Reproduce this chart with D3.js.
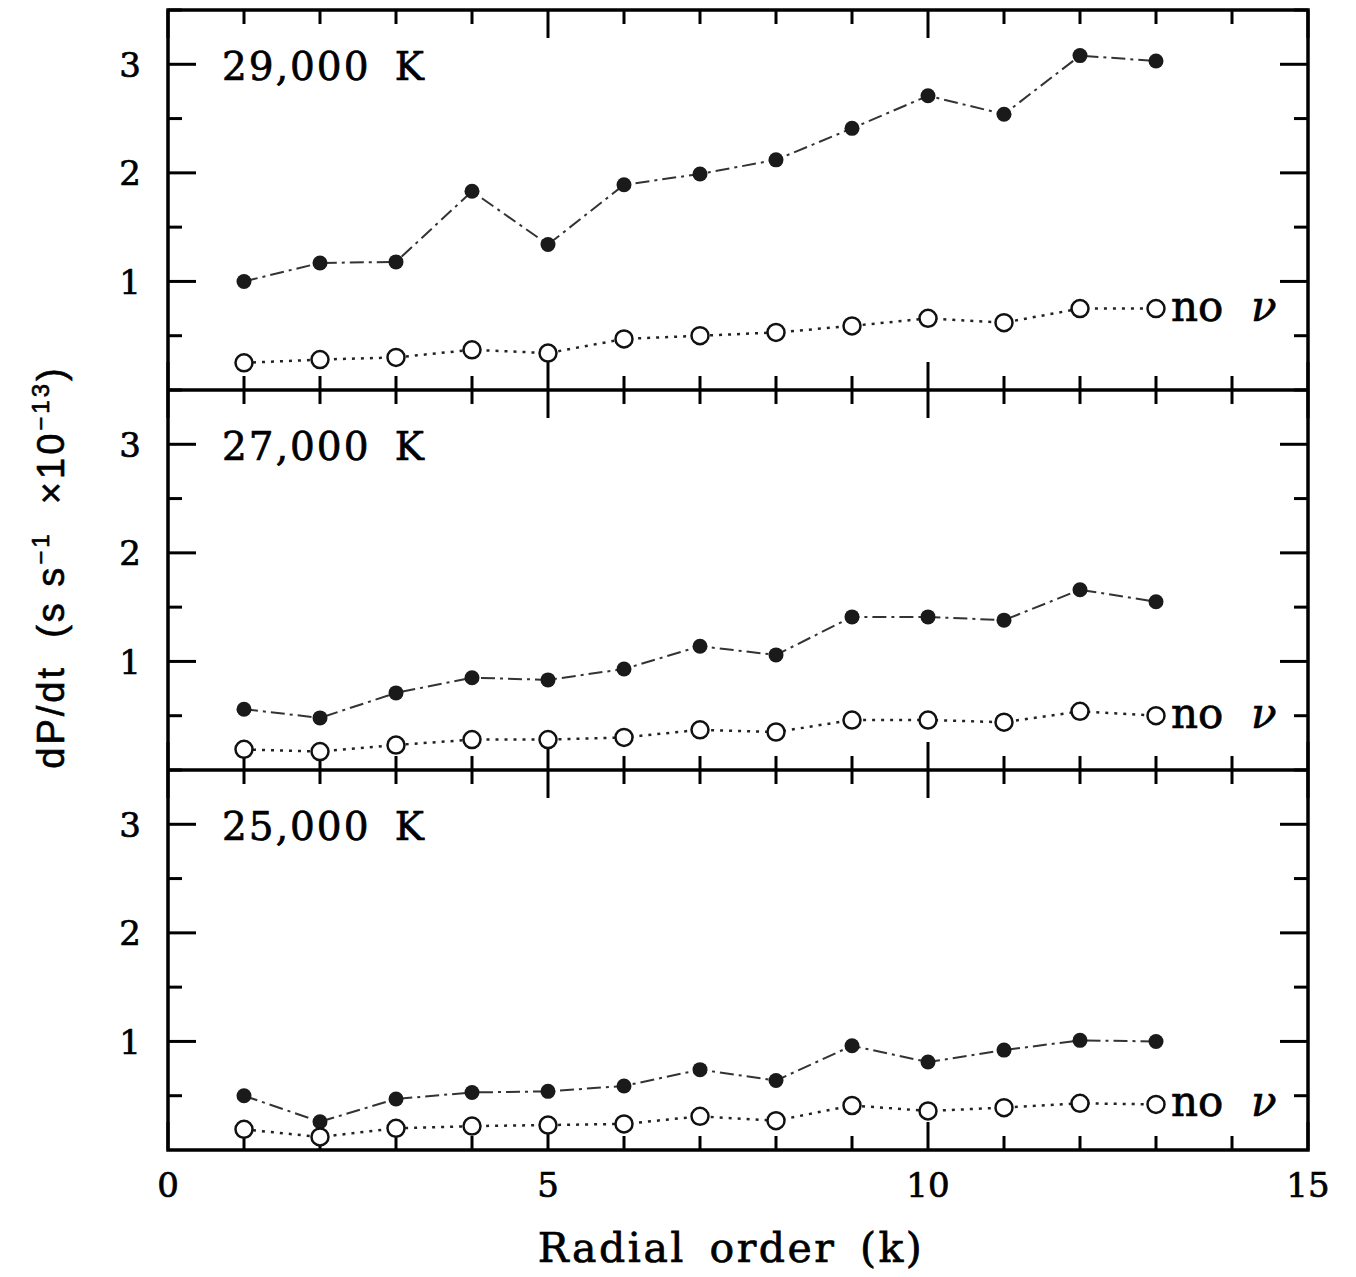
<!DOCTYPE html>
<html><head><meta charset="utf-8">
<script src="https://d3js.org/d3.v7.min.js"></script>
<style>body{margin:0;background:#fff} text{white-space:pre}</style>
</head><body>
<svg id="c" width="1356" height="1277"></svg>
<script>
const radialOrder = [1,2,3,4,5,6,7,8,9,10,11,12,13];
const panelLabels = ["29,000 K","27,000 K","25,000 K"];
const withNu29 = [1.00,1.17,1.18,1.83,1.34,1.89,1.99,2.12,2.41,2.71,2.54,3.08,3.03];
const noNu29   = [0.25,0.28,0.30,0.37,0.34,0.47,0.50,0.53,0.59,0.66,0.62,0.75,0.75];
const withNu27 = [0.56,0.48,0.71,0.85,0.83,0.93,1.14,1.06,1.41,1.41,1.38,1.66,1.55];
const noNu27   = [0.19,0.17,0.23,0.28,0.28,0.30,0.37,0.35,0.46,0.46,0.44,0.54,0.50];
const withNu25 = [0.50,0.26,0.47,0.53,0.54,0.59,0.74,0.64,0.96,0.81,0.92,1.01,1.00];
const noNu25   = [0.19,0.12,0.20,0.22,0.23,0.24,0.31,0.27,0.41,0.36,0.39,0.43,0.42];
const xMajorTicks = [0,5,10,15];
const yMajorTicks = [1,2,3];
const xLabel = "Radial order (k)";
const noNuLabel = "no";

const panels = [
  {label: panelLabels[0], filled: withNu29, open: noNu29},
  {label: panelLabels[1], filled: withNu27, open: noNu27},
  {label: panelLabels[2], filled: withNu25, open: noNu25}
];

const svg = d3.select("#c");
const L = 168, R = 1308, T = 10, H = 380;
const FONT = "DejaVu Serif";
const x = d3.scaleLinear().domain([0,15]).range([L,R]);
const xMinor = d3.range(0,16,1);
const yMinor = d3.range(0.5,3.51,0.5);

function serif(sel, size) {
  return sel.attr("font-family",FONT).attr("font-size",size)
    .attr("stroke","#000").attr("stroke-width",0.7).attr("fill","#000");
}

panels.forEach((p,i) => {
  const top = T + i*H, bot = top + H;
  const y = d3.scaleLinear().domain([0,3.5]).range([bot, top]);
  const g = svg.append("g");

  const tk = g.append("g").attr("stroke","#000");
  xMinor.forEach(v => {
    const len = xMajorTicks.includes(v) ? 28 : 14;
    tk.append("line").attr("x1",x(v)).attr("x2",x(v)).attr("y1",bot).attr("y2",bot-len).attr("stroke-width",3);
    tk.append("line").attr("x1",x(v)).attr("x2",x(v)).attr("y1",top).attr("y2",top+len).attr("stroke-width",3);
  });
  yMinor.forEach(v => {
    const len = yMajorTicks.includes(v) ? 28 : 14;
    tk.append("line").attr("x1",L).attr("x2",L+len).attr("y1",y(v)).attr("y2",y(v)).attr("stroke-width",3);
    tk.append("line").attr("x1",R).attr("x2",R-len).attr("y1",y(v)).attr("y2",y(v)).attr("stroke-width",3);
  });

  yMajorTicks.forEach(v => {
    serif(g.append("text"),34).attr("x",L-27).attr("y",y(v)).attr("dy","0.36em")
      .attr("text-anchor","end").text(v);
  });

  serif(g.append("text"),39).attr("x",222).attr("y",top+70)
    .attr("letter-spacing",2).attr("word-spacing",10).text(p.label);

  const line = d3.line().x((d,j)=>x(radialOrder[j])).y(d=>y(d));
  g.append("path").datum(p.filled).attr("d",line).attr("fill","none")
    .attr("stroke","#333").attr("stroke-width",2).attr("stroke-dasharray","14,5,3,5");
  g.append("path").datum(p.open).attr("d",line).attr("fill","none")
    .attr("stroke","#222").attr("stroke-width",2.5).attr("stroke-dasharray","3,6");

  g.selectAll(".f").data(p.filled).enter().append("circle")
    .attr("cx",(d,j)=>x(radialOrder[j])).attr("cy",d=>y(d)).attr("r",7.5).attr("fill","#1a1a1a");
  g.selectAll(".o").data(p.open).enter().append("circle")
    .attr("cx",(d,j)=>x(radialOrder[j])).attr("cy",d=>y(d)).attr("r",8.5)
    .attr("fill","#fff").attr("stroke","#111").attr("stroke-width",2.5);

  const last = p.open[p.open.length-1];
  const lx = x(radialOrder[radialOrder.length-1]) + 15;
  serif(g.append("text"),42).attr("x",lx).attr("y",y(last)+12).text(noNuLabel);
  serif(g.append("text"),42).attr("x",lx+80).attr("y",y(last)+12)
    .attr("font-style","italic").text("\u03BD");
});

svg.append("rect").attr("x",L).attr("y",T).attr("width",R-L).attr("height",3*H)
  .attr("fill","none").attr("stroke","#000").attr("stroke-width",3.5);
[1,2].forEach(i => svg.append("line").attr("x1",L).attr("x2",R)
  .attr("y1",T+i*H).attr("y2",T+i*H).attr("stroke","#000").attr("stroke-width",3.5));

xMajorTicks.forEach(v => serif(svg.append("text"),34).attr("x",x(v)).attr("y",1197)
  .attr("text-anchor","middle").text(v));

serif(svg.append("text"),41).attr("x",731).attr("y",1262).attr("text-anchor","middle")
  .attr("letter-spacing",2.5).attr("word-spacing",8).text(xLabel);

const yl = svg.append("text").attr("transform","translate(64,567) rotate(-90)")
  .attr("text-anchor","middle").attr("font-family","Liberation Sans").attr("font-size",38)
  .attr("letter-spacing",3).attr("stroke","#000").attr("stroke-width",0.6);
yl.append("tspan").text("dP/dt  (s s");
yl.append("tspan").attr("font-size",24).attr("dy",-15).text("\u22121");
yl.append("tspan").attr("dy",15).text("  \u00D710");
yl.append("tspan").attr("font-size",24).attr("dy",-15).text("\u221213");
yl.append("tspan").attr("dy",15).text(")");
</script>
</body></html>
